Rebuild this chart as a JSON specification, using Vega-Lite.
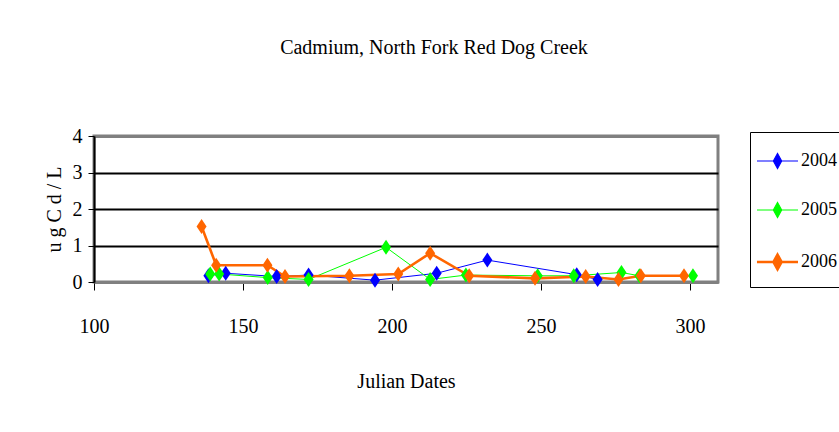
{
  "$schema": "https://vega.github.io/schema/vega-lite/v6.json",
  "autosize": "none",
  "width": 624,
  "height": 146,
  "padding": {"left": 94, "top": 136, "right": 121, "bottom": 150},
  "background": "white",
  "config": {
    "font": "Liberation Serif",
    "view": {"stroke": "#808080", "strokeWidth": 3},
    "title": {"font": "Liberation Serif", "fontSize": 20, "fontWeight": "normal", "color": "black"}
  },
  "title": {"text": "Cadmium, North Fork Red Dog Creek", "anchor": "middle", "frame": "group", "offset": 68, "dx": 28},
  "data": {
    "values": [
      {"year": "2004", "day": 138.4, "cd": 0.17},
      {"year": "2004", "day": 144.2, "cd": 0.24},
      {"year": "2004", "day": 161.3, "cd": 0.15},
      {"year": "2004", "day": 172, "cd": 0.19},
      {"year": "2004", "day": 194.3, "cd": 0.05},
      {"year": "2004", "day": 215, "cd": 0.24},
      {"year": "2004", "day": 232, "cd": 0.6},
      {"year": "2004", "day": 262, "cd": 0.2},
      {"year": "2004", "day": 269, "cd": 0.07},
      {"year": "2005", "day": 139, "cd": 0.22},
      {"year": "2005", "day": 142, "cd": 0.22},
      {"year": "2005", "day": 158.3, "cd": 0.12},
      {"year": "2005", "day": 172, "cd": 0.07},
      {"year": "2005", "day": 198, "cd": 0.95},
      {"year": "2005", "day": 212.8, "cd": 0.07},
      {"year": "2005", "day": 224.8, "cd": 0.19},
      {"year": "2005", "day": 248.9, "cd": 0.17},
      {"year": "2005", "day": 261, "cd": 0.17},
      {"year": "2005", "day": 277, "cd": 0.26},
      {"year": "2005", "day": 283, "cd": 0.17},
      {"year": "2005", "day": 301, "cd": 0.17},
      {"year": "2006", "day": 136.1, "cd": 1.52},
      {"year": "2006", "day": 141, "cd": 0.46},
      {"year": "2006", "day": 158.2, "cd": 0.46},
      {"year": "2006", "day": 164.1, "cd": 0.15},
      {"year": "2006", "day": 185.7, "cd": 0.17},
      {"year": "2006", "day": 202.1, "cd": 0.22},
      {"year": "2006", "day": 212.8, "cd": 0.79},
      {"year": "2006", "day": 225.9, "cd": 0.17},
      {"year": "2006", "day": 248, "cd": 0.1},
      {"year": "2006", "day": 265, "cd": 0.15},
      {"year": "2006", "day": 276, "cd": 0.07},
      {"year": "2006", "day": 283.5, "cd": 0.17},
      {"year": "2006", "day": 298, "cd": 0.17}
    ]
  },
  "encoding": {
    "x": {
      "field": "day", "type": "quantitative",
      "scale": {"domain": [100, 309.4], "nice": false, "zero": false},
      "axis": {
        "values": [100, 150, 200, 250, 300],
        "title": "Julian Dates",
        "titleFont": "Liberation Serif", "titleFontSize": 20, "titleFontWeight": "normal", "titleColor": "black",
        "titlePadding": 35,
        "labelFont": "Liberation Serif", "labelFontSize": 20, "labelColor": "black",
        "labelPadding": 26,
        "labelFlush": false,
        "labelOverlap": false,
        "tickSize": 8, "tickColor": "black", "tickWidth": 1,
        "domainColor": "#808080", "domainWidth": 3,
        "grid": false
      }
    },
    "y": {
      "field": "cd", "type": "quantitative",
      "scale": {"domain": [0, 4], "nice": false},
      "axis": {
        "values": [0, 1, 2, 3, 4],
        "title": "u g C d / L",
        "titleFont": "Liberation Serif", "titleFontSize": 20, "titleFontWeight": "normal", "titleColor": "black",
        "titlePadding": 8,
        "labelFont": "Liberation Serif", "labelFontSize": 20, "labelColor": "black",
        "labelPadding": 6,
        "labelFlush": false,
        "tickSize": 6, "tickColor": "black",
        "domainColor": "black", "domainWidth": 2,
        "grid": true,
        "gridColor": {"condition": {"test": "datum.value == 0 || datum.value == 4", "value": "#808080"}, "value": "black"},
        "gridWidth": {"condition": {"test": "datum.value == 0 || datum.value == 4", "value": 3}, "value": 2},
        "gridOpacity": 1
      }
    },
    "color": {
      "field": "year", "type": "nominal",
      "scale": {"domain": ["2004", "2005", "2006"], "range": ["#0000FF", "#00FF00", "#FF6600"]},
      "legend": {
        "title": " ",
        "titleFontSize": 8,
        "titlePadding": 0,
        "orient": "none",
        "legendX": 656,
        "legendY": -4,
        "padding": 12,
        "strokeColor": "black",
        "fillColor": "white",
        "symbolType": "M-1.87,0H3.6M0.87,-1L1.42,0L0.87,1L0.32,0Z",
        "symbolSize": 225,
        "symbolStrokeWidth": 1.5,
        "labelOffset": 21,
        "labelFont": "Liberation Serif",
        "labelFontSize": 18,
        "labelColor": "black",
        "rowPadding": 29,
        "encode": {
          "symbols": {
            "update": {
              "fill": {"scale": "color", "field": "value"},
              "stroke": {"scale": "color", "field": "value"},
              "strokeWidth": {"signal": "datum.value == '2006' ? 2.5 : 1.2"},
              "fillOpacity": {"value": 1}
            }
          }
        }
      }
    }
  },
  "layer": [
    {
      "mark": {"type": "line", "clip": false},
      "encoding": {
        "strokeWidth": {"condition": {"test": "datum.year === '2006'", "value": 2.6}, "value": 1}
      }
    },
    {
      "mark": {"type": "point", "filled": true, "opacity": 1, "size": 225, "shape": "M0,-1L0.67,0L0,1L-0.67,0Z"},
      "encoding": {}
    }
  ]
}
